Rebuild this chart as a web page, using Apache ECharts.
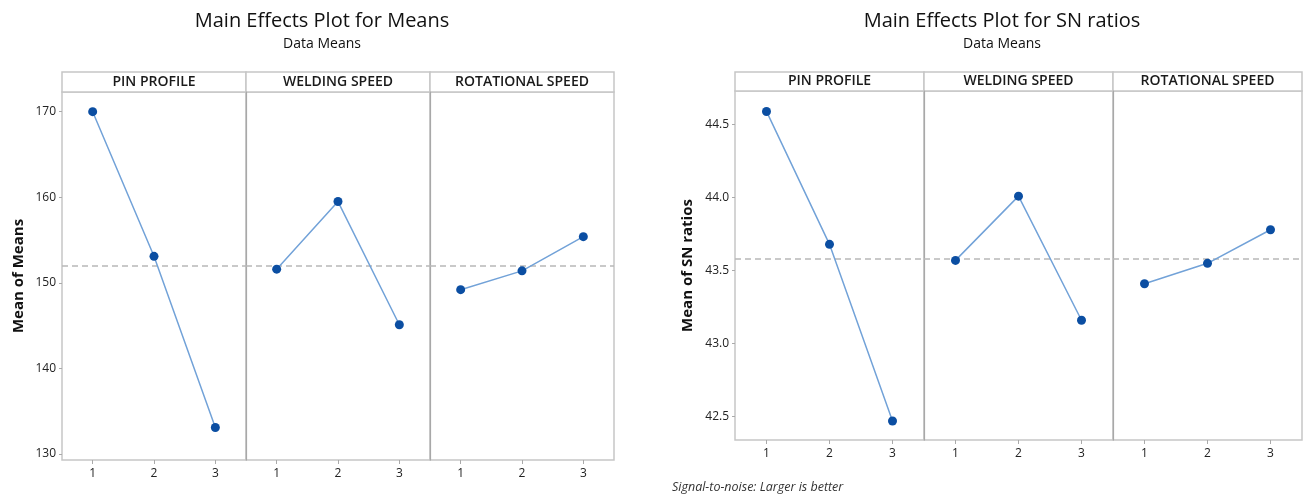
<!DOCTYPE html>
<html><head><meta charset="utf-8">
<script src="https://cdn.jsdelivr.net/npm/echarts@6/dist/echarts.min.js"></script>
<style>html,body{margin:0;padding:0;background:#fff}#c{width:1304px;height:498px}</style>
</head><body><div id="c"></div>
<script>
// ---- data ----
const levels = ['1', '2', '3'];
const factors = ['PIN PROFILE', 'WELDING SPEED', 'ROTATIONAL SPEED'];
const meansPin = [170.0, 153.1, 133.1];
const meansWeld = [151.6, 159.5, 145.1];
const meansRot = [149.2, 151.4, 155.4];
const snPin = [44.59, 43.68, 42.47];
const snWeld = [43.57, 44.01, 43.16];
const snRot = [43.41, 43.55, 43.78];
const meansTicks = [130, 140, 150, 160, 170];
const snTicks = [42.5, 43.0, 43.5, 44.0, 44.5];

const FONT = '"Open Sans", "Noto Sans", sans-serif';
const chart = echarts.init(document.getElementById('c'));

function mean(arrs){let s=0,n=0;arrs.forEach(a=>a.forEach(v=>{s+=v;n++;}));return s/n;}

const charts = [
  {series:[meansPin, meansWeld, meansRot], ticks: meansTicks, min:129.3, max:172.3, dec:0,
   lefts:[62,246,430], w:184, top:92, bottom:460, headTop:72, yName:'Mean of Means', nameGap:36,
   title:'Main Effects Plot for Means', titleX:317},
  {series:[snPin, snWeld, snRot], ticks: snTicks, min:42.34, max:44.73, dec:1,
   lefts:[735,924,1113], w:189, top:91, bottom:440, headTop:72, yName:'Mean of SN ratios', nameGap:40,
   title:'Main Effects Plot for SN ratios', titleX:997}
];

const grid=[], xAxis=[], yAxis=[], series=[], graphic=[], title=[];
charts.forEach((c, ci) => {
  const gm = mean(c.series);
  title.push({text:c.title, subtext:'Data Means', left:c.titleX, top:6, textAlign:'center', itemGap:6,
    textStyle:{fontFamily:FONT, fontSize:20, fontWeight:'normal', color:'#111'},
    subtextStyle:{fontFamily:FONT, fontSize:14, color:'#111'}});
  c.series.forEach((vals, pi) => {
    const gi = grid.length;
    grid.push({left:c.lefts[pi], top:c.top, width:c.w, height:c.bottom-c.top, show:true,
      borderColor:'#c6c6c6', borderWidth:1.5, backgroundColor:'#fff'});
    xAxis.push({type:'category', gridIndex:gi, data:levels, boundaryGap:true,
      axisLine:{show:false}, axisTick:{show:true, alignWithLabel:true, length:4, lineStyle:{color:'#aaa'}},
      axisLabel:{fontFamily:FONT, fontSize:12, color:'#222', margin:8}});
    yAxis.push({type:'value', gridIndex:gi, min:c.min, max:c.max,
      axisLine:{show:pi>0, lineStyle:{color:'#a8a8a8', width:1.2}},
      axisTick:{show:pi===0, length:3, lineStyle:{color:'#aaa'}, customValues:c.ticks},
      axisLabel:{show:pi===0, fontFamily:FONT, fontSize:12, color:'#222', margin:6, customValues:c.ticks,
        formatter:v=>Number(v).toFixed(c.dec)},
      splitLine:{show:false},
      name: pi===0 ? c.yName : '', nameLocation:'middle', nameGap:c.nameGap,
      nameTextStyle:{fontFamily:FONT, fontSize:15, fontWeight:'bold', color:'#111'}});
    series.push({type:'line', xAxisIndex:gi, yAxisIndex:gi, data:vals, symbol:'circle', symbolSize:9,
      lineStyle:{color:'#72a2d8', width:1.5}, itemStyle:{color:'#0b4ea2'}, z:5,
      markLine:{silent:true, symbol:'none', label:{show:false}, z:2,
        lineStyle:{color:'#b8b8b8', type:[6,4], width:1.5}, data:[{yAxis:gm}]}});
    graphic.push({type:'rect', shape:{x:c.lefts[pi], y:c.headTop, width:c.w, height:c.top-c.headTop},
      style:{fill:'#fff', stroke:'#c6c6c6', lineWidth:1.5}});
    graphic.push({type:'text', x:c.lefts[pi]+c.w/2, y:(c.headTop+c.top)/2,
      style:{text:factors[pi], fill:'#1a1a1a', font:'600 14px '+FONT, align:'center', verticalAlign:'middle'}});
  });
});
graphic.push({type:'text', x:672, y:481, style:{text:'Signal-to-noise: Larger is better', fill:'#333',
  font:'italic 12.5px '+FONT, align:'left', verticalAlign:'top'}});

chart.setOption({animation:false, title, grid, xAxis, yAxis, series, graphic});
</script></body></html>
